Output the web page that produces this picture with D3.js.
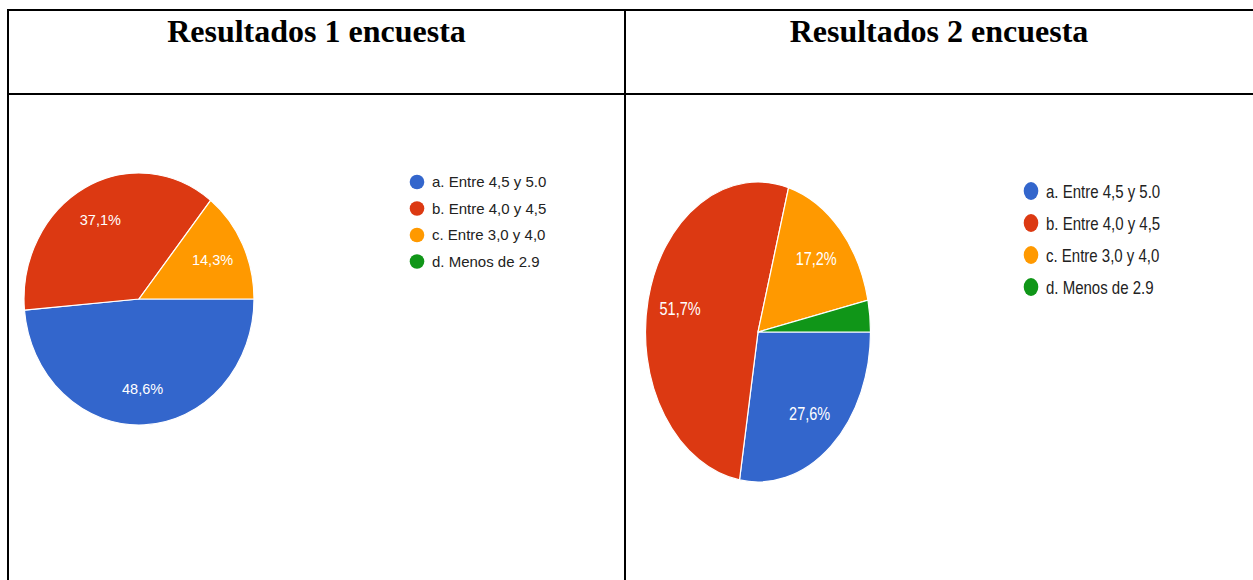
<!DOCTYPE html>
<html>
<head>
<meta charset="utf-8">
<script src="https://cdn.jsdelivr.net/npm/d3@7"></script>
<style>
  html, body { margin: 0; padding: 0; background: #fff; }
  svg { display: block; }
</style>
</head>
<body>
<svg id="chart" width="1253" height="580"></svg>
<script>
// ---- data ----
const categories = ["a. Entre 4,5 y 5.0", "b. Entre 4,0 y 4,5", "c. Entre 3,0 y 4,0", "d. Menos de 2.9"];
const colors = ["#3366cc", "#dc3912", "#ff9900", "#109618"];
const titles = ["Resultados 1 encuesta", "Resultados 2 encuesta"];
const survey1 = [48.6, 37.1, 14.3, 0];
const survey2 = [27.6, 51.7, 17.2, 3.4];

// ---- layout ----
const svg = d3.select("#chart");
const W = 1253, H = 580;
const colX = [8, 625, 1253];
const topY = 10, headY = 94;

const charts = [
  { values: survey1, cx: 139, cy: 299, rx: 115, ry: 126, legX: 417, legY: 182, legStep: 26.5, sy: 1.0 },
  { values: survey2, cx: 758, cy: 332, rx: 112.5, ry: 150, legX: 1031, legY: 191, legStep: 32, sy: 1.22 }
];

// table lines
const lines = svg.append("g").attr("stroke", "#000").attr("stroke-width", 2);
lines.append("line").attr("x1", 7).attr("x2", W).attr("y1", topY).attr("y2", topY);
lines.append("line").attr("x1", 7).attr("x2", W).attr("y1", headY).attr("y2", headY);
lines.append("line").attr("x1", colX[0]).attr("x2", colX[0]).attr("y1", topY - 1).attr("y2", H);
lines.append("line").attr("x1", colX[1]).attr("x2", colX[1]).attr("y1", topY - 1).attr("y2", H);

// titles
titles.forEach((t, i) => {
  svg.append("text")
    .attr("x", (colX[i] + colX[i + 1]) / 2)
    .attr("y", 41.5)
    .attr("text-anchor", "middle")
    .attr("font-family", "'Liberation Serif', 'Times New Roman', serif")
    .attr("font-weight", "bold")
    .attr("font-size", 32)
    .attr("fill", "#000")
    .text(t);
});

const pie = d3.pie().sort(null).startAngle(Math.PI / 2).endAngle(Math.PI / 2 + 2 * Math.PI);
const labelK = 0.71;

charts.forEach(c => {
  const arcs = pie(c.values);
  const arc = d3.arc().innerRadius(0).outerRadius(c.ry);
  const g = svg.append("g")
    .attr("transform", `translate(${c.cx},${c.cy}) scale(${c.rx / c.ry},1)`);
  g.selectAll("path")
    .data(arcs.filter(d => d.value > 0))
    .join("path")
    .attr("d", arc)
    .attr("fill", d => colors[d.index])
    .attr("stroke", "#fff")
    .attr("stroke-width", 1.2)
    .attr("vector-effect", "non-scaling-stroke");

  // slice labels (only for slices large enough)
  const total = d3.sum(c.values);
  arcs.filter(d => d.value / total > 0.05).forEach(d => {
    const a = (d.startAngle + d.endAngle) / 2;
    const x = c.cx + c.rx * labelK * Math.sin(a);
    const y = c.cy - c.ry * labelK * Math.cos(a);
    svg.append("text")
      .attr("transform", `translate(${x},${y}) scale(1,${c.sy})`)
      .attr("text-anchor", "middle")
      .attr("dy", "0.36em")
      .attr("font-family", "'Liberation Sans', Arial, sans-serif")
      .attr("font-size", 14.5)
      .attr("fill", "#fff")
      .text(d3.format(".1f")(d.value).replace(".", ",") + "%");
  });

  // legend
  const leg = svg.append("g");
  categories.forEach((name, i) => {
    const y = c.legY + i * c.legStep;
    leg.append("ellipse")
      .attr("cx", c.legX).attr("cy", y)
      .attr("rx", 7.3).attr("ry", 7.3 * c.sy)
      .attr("fill", colors[i]);
    leg.append("text")
      .attr("transform", `translate(${c.legX + 15},${y}) scale(1,${c.sy})`)
      .attr("dy", "0.36em")
      .attr("font-family", "'Liberation Sans', Arial, sans-serif")
      .attr("font-size", 15)
      .attr("fill", "#222")
      .text(name);
  });
});
</script>
</body>
</html>
